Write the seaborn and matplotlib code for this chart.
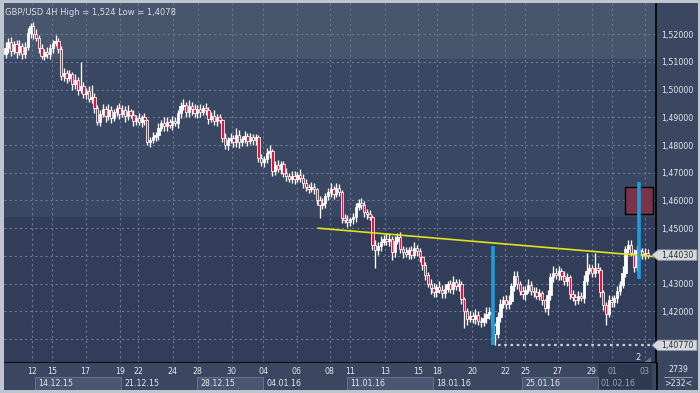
import matplotlib
matplotlib.use("Agg")
import matplotlib.pyplot as plt
import matplotlib.transforms as mtrans
from matplotlib.patches import Rectangle, Polygon
import seaborn as sns
import pandas as pd

# GBP/USD 4H candles (open = previous close)
first_open = 1.5130
close = [
    1.5150, 1.5172, 1.5140, 1.5165, 1.5135, 1.5158, 1.5130, 1.5155, 1.5205, 1.5230,
    1.5200, 1.5188, 1.5150, 1.5122, 1.5135, 1.5128, 1.5150, 1.5168, 1.5175, 1.5148,
    1.5048, 1.5060, 1.5042, 1.5055, 1.5020, 1.5035, 1.5000, 1.5012, 1.4985, 1.4995,
    1.4968, 1.4975, 1.4935, 1.4885, 1.4912, 1.4930, 1.4905, 1.4925, 1.4898, 1.4920,
    1.4935, 1.4912, 1.4928, 1.4905, 1.4922, 1.4910, 1.4888, 1.4898, 1.4885, 1.4900,
    1.4890, 1.4810, 1.4818, 1.4830, 1.4838, 1.4862, 1.4880, 1.4868, 1.4885, 1.4872,
    1.4888, 1.4880, 1.4915, 1.4940, 1.4945, 1.4918, 1.4940, 1.4932, 1.4915, 1.4932,
    1.4920, 1.4935, 1.4925, 1.4895, 1.4905, 1.4888, 1.4902, 1.4890, 1.4826, 1.4800,
    1.4818, 1.4825, 1.4810, 1.4838, 1.4810, 1.4822, 1.4832, 1.4815, 1.4828, 1.4818,
    1.4830, 1.4752, 1.4740, 1.4748, 1.4770, 1.4780, 1.4708, 1.4728, 1.4715, 1.4732,
    1.4700, 1.4688, 1.4678, 1.4690, 1.4678, 1.4692, 1.4682, 1.4662, 1.4648, 1.4642,
    1.4650, 1.4640, 1.4600, 1.4585, 1.4592, 1.4615, 1.4630, 1.4642, 1.4625, 1.4645,
    1.4632, 1.4538, 1.4530, 1.4522, 1.4532, 1.4540, 1.4578, 1.4592, 1.4585, 1.4560,
    1.4550, 1.4540, 1.4440, 1.4420, 1.4435, 1.4450, 1.4462, 1.4455, 1.4462, 1.4415,
    1.4455, 1.4470, 1.4425, 1.4415, 1.4408, 1.4420, 1.4405, 1.4428, 1.4418, 1.4395,
    1.4368, 1.4330, 1.4300, 1.4285, 1.4268, 1.4288, 1.4278, 1.4265, 1.4280, 1.4298,
    1.4282, 1.4305, 1.4290, 1.4300, 1.4245, 1.4200, 1.4172, 1.4182, 1.4172, 1.4188,
    1.4165, 1.4160, 1.4175, 1.4190, 1.4198, 1.4150, 1.4118, 1.4180, 1.4225, 1.4242,
    1.4225, 1.4238, 1.4290, 1.4328, 1.4300, 1.4272, 1.4262, 1.4278, 1.4295, 1.4275,
    1.4268, 1.4255, 1.4265, 1.4240, 1.4212, 1.4260, 1.4322, 1.4340, 1.4330, 1.4345,
    1.4328, 1.4308, 1.4322, 1.4262, 1.4250, 1.4242, 1.4255, 1.4248, 1.4310, 1.4345,
    1.4355, 1.4340, 1.4358, 1.4350, 1.4270, 1.4222, 1.4190, 1.4240, 1.4232, 1.4248,
    1.4275, 1.4295, 1.4340, 1.4425, 1.4440, 1.4412, 1.4360, 1.4420, 1.4418, 1.4406,
    1.4412, 1.4403,
]
# wick lengths in pips above the body top / below the body bottom
wick_up = [
    22, 14, 18, 10, 16, 20, 12, 18, 16, 10,
    14, 18, 10, 16, 12, 20, 16, 10, 22, 12,
    8, 18, 12, 16, 10, 22, 12, 88, 16, 10,
    18, 42, 12, 10, 16, 20, 12, 22, 16, 12,
    10, 18, 16, 12, 22, 10, 16, 12, 18, 10,
    16, 6, 12, 18, 10, 16, 12, 22, 16, 10,
    18, 12, 10, 16, 22, 12, 22, 16, 18, 12,
    16, 10, 18, 12, 16, 22, 12, 10, 6, 16,
    12, 18, 10, 22, 16, 12, 18, 10, 16, 12,
    10, 6, 16, 12, 18, 20, 6, 16, 18, 12,
    10, 16, 12, 18, 16, 10, 22, 12, 16, 10,
    18, 12, 6, 16, 18, 12, 16, 22, 12, 18,
    16, 6, 12, 18, 10, 16, 12, 13, 16, 12,
    10, 16, 6, 18, 16, 22, 12, 18, 16, 10,
    18, 12, 16, 10, 18, 12, 16, 22, 12, 10,
    6, 10, 12, 16, 18, 12, 22, 16, 18, 12,
    16, 22, 12, 18, 10, 6, 12, 18, 16, 22,
    12, 16, 18, 24, 16, 10, 6, 16, 18, 12,
    16, 22, 12, 18, 16, 10, 18, 12, 22, 16,
    12, 18, 16, 10, 6, 16, 18, 22, 16, 18,
    12, 16, 18, 10, 16, 12, 18, 16, 22, 65,
    16, 12, 52, 16, 10, 6, 12, 18, 16, 12,
    18, 16, 22, 12, 16, 18, 12, 16, 16, 12,
    16, 12,
]
wick_lo = [
    15, 16, 18, 12, 22, 10, 18, 16, 12, 18,
    16, 12, 18, 12, 16, 12, 18, 16, 10, 16,
    12, 16, 18, 12, 22, 16, 18, 12, 16, 18,
    12, 16, 18, 12, 16, 12, 22, 16, 18, 12,
    16, 18, 12, 22, 16, 12, 18, 16, 12, 18,
    16, 10, 18, 12, 16, 18, 12, 16, 18, 12,
    16, 12, 18, 16, 12, 18, 16, 22, 12, 16,
    18, 12, 16, 18, 12, 16, 18, 12, 16, 14,
    16, 12, 18, 16, 22, 12, 16, 18, 12, 16,
    18, 12, 16, 18, 12, 16, 18, 16, 12, 18,
    16, 18, 12, 16, 18, 12, 16, 18, 12, 16,
    12, 18, 16, 49, 16, 18, 12, 16, 18, 12,
    16, 18, 12, 16, 15, 16, 18, 12, 16, 18,
    16, 12, 18, 62, 16, 18, 12, 16, 18, 30,
    18, 12, 16, 22, 12, 18, 16, 12, 18, 16,
    18, 16, 12, 22, 16, 18, 12, 16, 18, 12,
    16, 18, 12, 16, 18, 60, 22, 12, 16, 18,
    16, 18, 12, 16, 18, 12, 41, 16, 18, 12,
    16, 18, 12, 16, 18, 12, 16, 22, 12, 16,
    18, 12, 16, 18, 16, 25, 18, 16, 12, 18,
    16, 12, 18, 16, 12, 18, 16, 12, 18, 16,
    12, 18, 16, 12, 18, 16, 40, 12, 18, 16,
    18, 16, 12, 18, 16, 12, 18, 16, 12, 18,
    16, 12,
]

# x axis: day labels at bar index, week groups
day_labels = ["12", "15", "17", "19", "22", "24", "28", "30", "04", "06", "08",
              "11", "13", "15", "18", "20", "22", "25", "27", "29", "01", "03"]
day_pos = [9.4, 16.6, 28.8, 41.2, 47.7, 60.1, 69.1, 81.4, 92.7, 104.7, 116.7,
           123.9, 136.5, 148.4, 155.2, 167.8, 179.7, 186.9, 198.7, 210.9, 218.2, 230.0]
week_labels = ["14.12.15", "21.12.15", "28.12.15", "04.01.16",
               "11.01.16", "18.01.16", "25.01.16", "01.02.16"]
week_start = [10.6, 41.5, 68.9, 92.6, 122.8, 153.8, 185.8, 213.0]
week_end = [41.5, 68.9, 92.6, 122.8, 153.8, 185.8, 213.0, 232.7]

y_ticks = [1.41, 1.42, 1.43, 1.44, 1.45, 1.46, 1.47, 1.48, 1.49, 1.50, 1.51, 1.52]

# drawn objects
trend_x = [112.4, 234.0]
trend_y = [1.4500, 1.4397]
spike_x = [175.4, 227.9]
spike_top = [1.4434, 1.4667]
spike_bot = [1.4079, 1.4317]
zone_x = [222.8, 232.9]
zone_y = [1.4552, 1.4650]
band_edges = [1.4541, 1.5111]
last_price = 1.4403
low_price = 1.4077
low_idx = 177
total_bars = 2739
shown_bars = 232

df = pd.DataFrame({"close": close, "up": wick_up, "lo": wick_lo})
df["open"] = [first_open] + close[:-1]
df["i"] = range(len(df))
df["top"] = df[["open", "close"]].max(axis=1)
df["bot"] = df[["open", "close"]].min(axis=1)
df["high"] = df["top"] + df["up"] / 10000
df["low"] = df["bot"] - df["lo"] / 10000
df["body"] = (df["top"] - df["bot"]).clip(lower=0.0003)
df["color"] = ["#ffffff" if c >= o else "#e0153f" for o, c in zip(df["open"], df["close"])]

sns.set_theme(style="dark")
plt.rcParams["font.family"] = ["DejaVu Sans"]

PANEL = "#3b4761"
GRID = "#6a7995"
TXT = "#e4e8ee"
W, H = 700, 393


def rect(x0, y0, x1, y1):
    return [x0 / W, 1 - y1 / H, (x1 - x0) / W, (y1 - y0) / H]


fig = plt.figure(figsize=(7, 3.93), dpi=100, facecolor=PANEL)

ax = fig.add_axes(rect(4, 3, 656, 363))
ax.set_facecolor("#323e59")
ax.set_xlim(-0.54, 234.0)
ax.set_ylim(1.40133, 1.5313)
ax.axhspan(band_edges[0], band_edges[1], color="#3a4763", lw=0, zorder=0)
ax.axhspan(band_edges[1], 1.54, color="#47556d", lw=0, zorder=0)

for y in y_ticks:
    ax.axhline(y, color=GRID, lw=0.8, ls=(0, (2, 2.6)), zorder=1)
for x in day_pos:
    ax.axvline(x, color=GRID, lw=0.8, ls=(0, (2, 2.6)), zorder=1)

# candles
ax.vlines(df["i"], df["low"], df["high"], color="white", lw=0.95, zorder=3)
ax.bar(df["i"], df["body"], bottom=df["bot"], width=0.85, color=df["color"],
       edgecolor="white", linewidth=0.55, zorder=4)

sns.lineplot(x=trend_x, y=trend_y, ax=ax, color="#e2e21a", lw=1.2, zorder=5)
ax.vlines(spike_x, spike_bot, spike_top, color="#1f9bd9", lw=2.6, zorder=6)
ax.add_patch(Rectangle((zone_x[0], zone_y[0]), zone_x[1] - zone_x[0], zone_y[1] - zone_y[0],
                       facecolor="#7a3448", edgecolor="black", lw=1.0, zorder=5))
ax.hlines(low_price, low_idx, 234.0, color="#c9cdd4", lw=1.6, ls=(0, (1.2, 1.6)), zorder=5)

# tick labels hidden behind the price tags are left blank
tag_prices = [last_price, low_price]
ax.set_xticks([])
ax.yaxis.tick_right()
ax.set_yticks(y_ticks)
ax.set_yticklabels(["" if min(abs(v - p) for p in tag_prices) < 0.004 else f"{v:.5f}".replace(".", ",")
                    for v in y_ticks])
ax.tick_params(axis="y", length=0, pad=3.5, labelsize=5.7, labelcolor=TXT)
for s in ["top", "left"]:
    ax.spines[s].set_visible(False)
for s in ["right", "bottom"]:
    ax.spines[s].set_color("black")
    ax.spines[s].set_linewidth(1.2)
ax.set_xlabel("")
ax.set_ylabel("")

ax.text(0.002, 0.987, "GBP/USD 4H High = 1,524 Low = 1,4078", transform=ax.transAxes,
        ha="left", va="top", fontsize=6.0, color="#d9dee6", zorder=7)
fig.text(638 / W, 1 - 357 / H, str(2), ha="center", va="center", fontsize=6, color=TXT)
fig.add_artist(Polygon([[645 / W, 1 - 362 / H], [651 / W, 1 - 362 / H], [651 / W, 1 - 357 / H]],
                       closed=True, transform=fig.transFigure, facecolor="#6c7890", lw=0))

# bottom date panel
axb = fig.add_axes(rect(4, 363, 656, 390))
axb.set_facecolor(PANEL)
axb.set_xlim(-0.54, 234.0)
axb.set_ylim(0, 1)
axb.set_xticks([])
axb.set_yticks([])
for s in axb.spines.values():
    s.set_visible(False)
axb.add_patch(Rectangle((week_start[-1], 0.02), week_end[-1] - week_start[-1], 0.93,
                        facecolor="#2f3a52", lw=0, zorder=1))
for k, (lab, a, b) in enumerate(zip(week_labels, week_start, week_end)):
    if k % 2 == 0 and k < len(week_labels) - 1:
        axb.add_patch(Rectangle((a, 0.0), b - a, 0.49, facecolor="#4a5671",
                                edgecolor="#66738d", lw=0.7, zorder=2))
    else:
        axb.plot([a, a], [0.0, 0.49], color="#66738d", lw=0.7, zorder=2)
    col = "#98a2b5" if k == len(week_labels) - 1 else TXT
    axb.text(a + 1.2, 0.25, lab, ha="left", va="center", fontsize=5.7, color=col, zorder=3)
for lab, x in zip(day_labels, day_pos):
    col = "#98a2b5" if x > week_start[-1] else TXT
    axb.text(x, 0.67, lab, ha="center", va="center", fontsize=5.7, color=col, zorder=3)

# right corner info
fig.text(678 / W, 1 - 370 / H, str(total_bars), ha="center", va="center", fontsize=5.7, color=TXT)
fig.add_artist(plt.Line2D([664 / W, 692 / W], [1 - 377 / H, 1 - 377 / H],
                          transform=fig.transFigure, color="#9aa3b4", lw=0.7))
fig.text(678 / W, 1 - 384 / H, f">{shown_bars}<", ha="center", va="center", fontsize=5.7, color=TXT)
fig.add_artist(plt.Line2D([656.5 / W, 656.5 / W], [1 - 390 / H, 1 - 363 / H],
                          transform=fig.transFigure, color="black", lw=1.2))

# price tags on the right axis
blend = mtrans.blended_transform_factory(fig.transFigure, ax.transData)
for p in tag_prices:
    h = 0.0019
    tag = Polygon([[652 / W, p], [658 / W, p + h], [697 / W, p + h], [697 / W, p - h], [658 / W, p - h]],
                  closed=True, transform=blend, facecolor="#d6d9de", edgecolor="#8c939e", lw=0.6,
                  zorder=8)
    fig.add_artist(tag)
    fig.text(677.5 / W, p, f"{p:.5f}".replace(".", ","), transform=blend, ha="center", va="center",
             fontsize=5.7, color="#2e2e2e", zorder=9)

# light outer frame
for r in [(0, 0, 700, 3), (0, 0, 4, 393), (0, 390, 700, 393), (698, 0, 700, 393)]:
    fig.add_artist(Rectangle((r[0] / W, 1 - r[3] / H), (r[2] - r[0]) / W, (r[3] - r[1]) / H,
                             transform=fig.transFigure, facecolor="#bfc5ce", lw=0, zorder=10))

fig.savefig("out.png", dpi=100, facecolor=fig.get_facecolor())
